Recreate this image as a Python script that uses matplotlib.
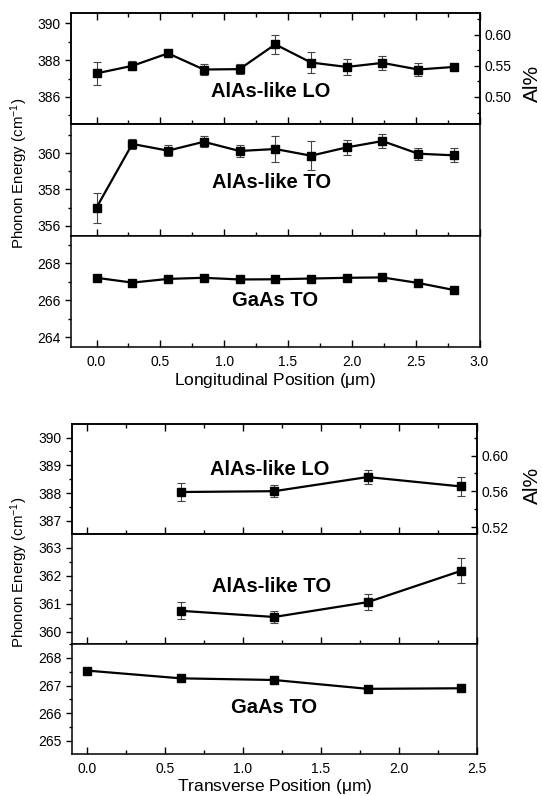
import numpy as np
import matplotlib
matplotlib.use("Agg")
import matplotlib.pyplot as plt
from matplotlib.ticker import MultipleLocator, FormatStrFormatter

plt.rcParams['font.family'] = ['Liberation Sans', 'DejaVu Sans']
plt.rcParams['mathtext.fontset'] = 'custom'
plt.rcParams['mathtext.rm'] = 'Liberation Sans'
plt.rcParams['mathtext.it'] = 'Liberation Sans'

# Longitudinal scan
long_pos = [0.0, 0.28, 0.56, 0.84, 1.12, 1.40, 1.68, 1.96, 2.24, 2.52, 2.80]
long_lo = [387.28, 387.69, 388.37, 387.49, 387.51, 388.86, 387.87, 387.63, 387.85, 387.49, 387.63]
long_lo_err = [0.62, 0.25, 0.18, 0.29, 0.27, 0.53, 0.59, 0.44, 0.38, 0.36, 0.08]
long_to = [357.0, 360.52, 360.15, 360.64, 360.13, 360.24, 359.87, 360.33, 360.68, 359.98, 359.89]
long_to_err = [0.83, 0.28, 0.32, 0.31, 0.32, 0.72, 0.79, 0.40, 0.41, 0.34, 0.38]
long_gaas = [267.22, 266.96, 267.16, 267.22, 267.13, 267.14, 267.18, 267.22, 267.24, 266.94, 266.56]

# Transverse scan
trans_pos = [0.6, 1.2, 1.8, 2.4]
trans_lo = [388.04, 388.07, 388.58, 388.24]
trans_lo_err = [0.32, 0.21, 0.25, 0.34]
trans_to = [360.74, 360.52, 361.05, 362.17]
trans_to_err = [0.30, 0.23, 0.28, 0.45]
trans_gaas_pos = [0.0, 0.6, 1.2, 1.8, 2.4]
trans_gaas = [267.54, 267.26, 267.20, 266.88, 266.90]

W, H = 542, 796
fig = plt.figure(figsize=(W / 100, H / 100), dpi=100)


def style_axes(ax, xmaj, xmin_, ymaj, ymin_, top_ticks=False, bottom_labels=False):
    for sp in ax.spines.values():
        sp.set_linewidth(1.1)
    ax.xaxis.set_major_locator(MultipleLocator(xmaj))
    ax.xaxis.set_minor_locator(MultipleLocator(xmin_))
    ax.yaxis.set_major_locator(MultipleLocator(ymaj))
    ax.yaxis.set_minor_locator(MultipleLocator(ymin_))
    ax.tick_params(axis='x', which='both', direction='in', top=top_ticks,
                   labelbottom=bottom_labels, labelsize=10, width=1.0, pad=6)
    ax.tick_params(axis='x', which='major', length=5)
    ax.tick_params(axis='x', which='minor', length=3)
    ax.tick_params(axis='y', which='both', direction='out', right=False,
                   labelsize=10, width=1.0)
    ax.tick_params(axis='y', which='major', length=4)
    ax.tick_params(axis='y', which='minor', length=2.5)


def draw_series(ax, x, y, err=None):
    ax.plot(x, y, '-', color='black', lw=1.6, zorder=3)
    if err is not None:
        ax.errorbar(x, y, yerr=err, fmt='none', ecolor='#444444',
                    elinewidth=0.8, capsize=3, capthick=0.8, zorder=2)
    ax.plot(x, y, 's', color='black', ms=5.5, zorder=4)


def right_axis(ax, lim, maj, mnr, label_y):
    ax2 = ax.twinx()
    ax2.set_ylim(*lim)
    ax2.yaxis.set_major_locator(MultipleLocator(maj))
    ax2.yaxis.set_minor_locator(MultipleLocator(mnr))
    ax2.yaxis.set_major_formatter(FormatStrFormatter('%.2f'))
    ax2.tick_params(axis='y', which='both', direction='in', labelsize=10, width=1.0)
    ax2.tick_params(axis='y', which='major', length=4)
    ax2.tick_params(axis='y', which='minor', length=2.5)
    for sp in ax2.spines.values():
        sp.set_linewidth(1.1)
    fig.text(532 / W, 1 - label_y / H, 'Al%', rotation=90, fontsize=15,
             ha='center', va='center')
    return ax2


def panel_text(ax, text, xf, yf):
    ax.text(xf, yf, text, transform=ax.transAxes, ha='center', va='center',
            fontsize=14.5, fontweight='bold')


def energy_label(x_px, y_px):
    fig.text(x_px / W, 1 - y_px / H, 'Phonon Energy (cm$^{-1}$)', rotation=90,
             fontsize=10.8, ha='center', va='center')


def position_label(x_px, y_px, text):
    fig.text(x_px / W, 1 - y_px / H, text, fontsize=12.5,
             ha='center', va='center')


# ---- Longitudinal figure ----
left, right = 71 / W, 479.5 / W
top, bottom = 13.3, 346.7
ph = (bottom - top) / 3
axes_long = []
for i in range(3):
    y0 = 1 - (top + (i + 1) * ph) / H
    axes_long.append(fig.add_axes([left, y0, right - left, ph / H]))
a_lo, a_to, a_ga = axes_long

for a in axes_long:
    a.set_xlim(-0.2, 3.0)

draw_series(a_lo, long_pos, long_lo, long_lo_err)
a_lo.set_ylim(384.5, 390.55)
style_axes(a_lo, 0.5, 0.25, 2, 1, top_ticks=True)
panel_text(a_lo, 'AlAs-like LO', 0.49, 0.30)
right_axis(a_lo, (0.456, 0.634), 0.05, 0.025, 83)

draw_series(a_to, long_pos, long_to, long_to_err)
a_to.set_ylim(355.45, 361.6)
style_axes(a_to, 0.5, 0.25, 2, 1)
panel_text(a_to, 'AlAs-like TO', 0.49, 0.475)
energy_label(19, 173)

draw_series(a_ga, long_pos, long_gaas)
a_ga.set_ylim(263.5, 269.5)
style_axes(a_ga, 0.5, 0.25, 2, 1, bottom_labels=True)
a_ga.xaxis.set_major_formatter(FormatStrFormatter('%.1f'))
panel_text(a_ga, 'GaAs TO', 0.50, 0.42)
position_label(275, 381, 'Longitudinal Position ($\\mu$m)')

# ---- Transverse figure ----
left, right = 71.7 / W, 476.7 / W
top, bottom = 424.3, 754.0
ph = (bottom - top) / 3
axes_tr = []
for i in range(3):
    y0 = 1 - (top + (i + 1) * ph) / H
    axes_tr.append(fig.add_axes([left, y0, right - left, ph / H]))
b_lo, b_to, b_ga = axes_tr

for b in axes_tr:
    b.set_xlim(-0.1, 2.5)

draw_series(b_lo, trans_pos, trans_lo, trans_lo_err)
b_lo.set_ylim(386.52, 390.48)
style_axes(b_lo, 0.5, 0.25, 1, 0.5, top_ticks=True)
panel_text(b_lo, 'AlAs-like LO', 0.49, 0.59)
right_axis(b_lo, (0.512, 0.635), 0.04, 0.02, 485)

draw_series(b_to, trans_pos, trans_to, trans_to_err)
b_to.set_ylim(359.55, 363.48)
style_axes(b_to, 0.5, 0.25, 1, 0.5)
panel_text(b_to, 'AlAs-like TO', 0.493, 0.52)
energy_label(19, 572)

draw_series(b_ga, trans_gaas_pos, trans_gaas)
b_ga.set_ylim(264.52, 268.5)
style_axes(b_ga, 0.5, 0.25, 1, 0.5, bottom_labels=True)
b_ga.xaxis.set_major_formatter(FormatStrFormatter('%.1f'))
panel_text(b_ga, 'GaAs TO', 0.50, 0.42)
position_label(275, 786, 'Transverse Position ($\\mu$m)')

fig.savefig('out.png', dpi=100)
